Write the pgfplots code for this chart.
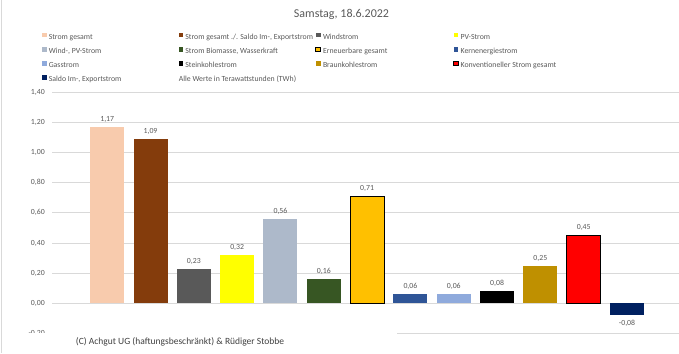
\documentclass[border=0pt]{standalone}
\usepackage{fontspec}
\setmainfont{Carlito}
\usepackage{pgfplots}
\pgfplotsset{compat=1.18}
\definecolor{gridgray}{HTML}{D9D9D9}
\definecolor{txtgray}{HTML}{595959}
\definecolor{cA}{HTML}{F8CBAD}
\definecolor{cB}{HTML}{843C0C}
\definecolor{cC}{HTML}{595959}
\definecolor{cD}{HTML}{FFFF00}
\definecolor{cE}{HTML}{ADB9CA}
\definecolor{cF}{HTML}{375623}
\definecolor{cG}{HTML}{FFC000}
\definecolor{cH}{HTML}{2F5597}
\definecolor{cI}{HTML}{8FAADC}
\definecolor{cJ}{HTML}{000000}
\definecolor{cK}{HTML}{BF9000}
\definecolor{cL}{HTML}{FF0000}
\definecolor{cM}{HTML}{002060}
\pgfplotsset{
  sq/.style={bar shift=0pt, legend image code/.code={\path[##1] (0pt,0pt) rectangle (4.6pt,4.6pt);}},
}
\newcommand{\smallf}{\fontsize{7.8}{9}\selectfont}
\newcommand{\LE}[1]{\makebox[128pt][l]{#1}}
\begin{document}
\begin{tikzpicture}[x=1pt,y=1pt]
\useasboundingbox (0,0) rectangle (679,353);
\begin{axis}[
  at={(52.3pt,19.6pt)}, anchor=south west,
  scale only axis, width=626.7pt, height=241.1pt,
  xmin=-1.268, xmax=13.2, ymin=-0.2, ymax=1.4,
  ytick={-0.2,0,0.2,0.4,0.6,0.8,1.0,1.2,1.4},
  xtick=\empty,
  ymajorgrids, grid style={draw=gridgray, line width=0.75pt},
  axis line style={draw=none}, major tick length=0pt,
  /pgf/number format/.cd, use comma, fixed, fixed zerofill, precision=2, assume math mode=true,
  /pgfplots/.cd,
  yticklabel style={font=\smallf, text=txtgray, xshift=-4pt},
  ybar, bar width=34pt,
  nodes near coords,
  nodes near coords style={font=\smallf, text=txtgray, inner ysep=4.3pt, inner xsep=0pt},
  legend columns=4,
  legend style={at={(-0.01644,1.248)}, anchor=north west, draw=none, fill=none,
    inner sep=0pt, column sep=0pt, row sep=5.7pt, font=\smallf, text=txtgray,
    nodes={inner xsep=2pt, inner ysep=0pt, text height=5.5pt, text depth=1.5pt}},
  legend cell align=left,
]
\addplot[sq, fill=cA, draw=none] coordinates {(0,1.17)};
\addlegendentry{\LE{Strom gesamt}}
\addplot[sq, fill=cB, draw=none] coordinates {(1,1.09)};
\addlegendentry{\LE{Strom gesamt ./. Saldo Im-, Exportstrom}}
\addplot[sq, fill=cC, draw=none] coordinates {(2,0.23)};
\addlegendentry{\LE{Windstrom}}
\addplot[sq, fill=cD, draw=none] coordinates {(3,0.32)};
\addlegendentry{\LE{PV-Strom}}
\addplot[sq, fill=cE, draw=none] coordinates {(4,0.56)};
\addlegendentry{\LE{Wind-, PV-Strom}}
\addplot[sq, fill=cF, draw=none] coordinates {(5,0.16)};
\addlegendentry{\LE{Strom Biomasse, Wasserkraft}}
\addplot[sq, fill=cG, draw=black, line width=1pt] coordinates {(6,0.71)};
\addlegendentry{\LE{Erneuerbare gesamt}}
\addplot[sq, fill=cH, draw=none] coordinates {(7,0.06)};
\addlegendentry{\LE{Kernenergiestrom}}
\addplot[sq, fill=cI, draw=none] coordinates {(8,0.06)};
\addlegendentry{\LE{Gasstrom}}
\addplot[sq, fill=cJ, draw=none] coordinates {(9,0.08)};
\addlegendentry{\LE{Steinkohlestrom}}
\addplot[sq, fill=cK, draw=none] coordinates {(10,0.25)};
\addlegendentry{\LE{Braunkohlestrom}}
\addplot[sq, fill=cL, draw=black, line width=1pt] coordinates {(11,0.45)};
\addlegendentry{\LE{Konventioneller Strom gesamt}}
\addplot[sq, fill=cM, draw=none] coordinates {(12,-0.08)};
\addlegendentry{\LE{Saldo Im-, Exportstrom}}
\addlegendimage{empty legend}
\addlegendentry{\LE{\hspace*{-6.6pt}Alle Werte in Terawattstunden (TWh)}}
\end{axis}
\fill[white] (1.5,0) rectangle (396.5,20.3);
\draw[gridgray, line width=0.8pt] (1,0) -- (1,353);
\node[font=\fontsize{9.5}{11}\selectfont, text={black!75}] at (180,11) {(C) Achgut UG (haftungsbeschränkt) \& Rüdiger Stobbe};
\node[font=\fontsize{12}{14}\selectfont, text=txtgray] at (341.5,339) {Samstag, 18.6.2022};
\end{tikzpicture}
\end{document}
